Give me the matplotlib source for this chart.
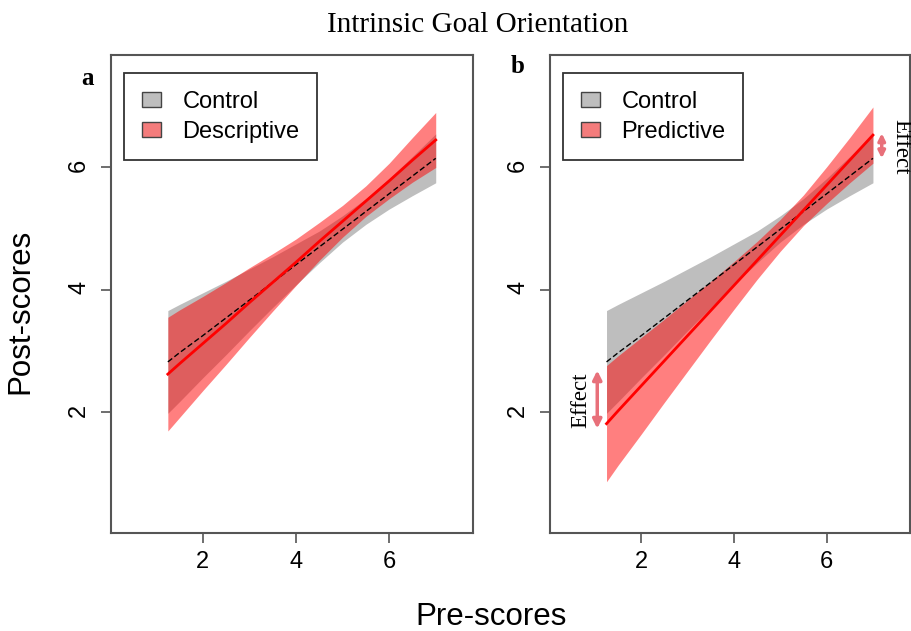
import matplotlib
matplotlib.use("Agg")
import matplotlib.pyplot as plt
from matplotlib.patches import Patch

pre = [1.25, 1.5, 2, 2.5, 3, 3.5, 4, 4.5, 5, 5.5, 6, 6.5, 7]

control_fit = [2.82, 2.97, 3.25, 3.54, 3.83, 4.12, 4.41, 4.70, 4.99, 5.28, 5.57, 5.86, 6.15]
control_lo = [1.98, 2.17, 2.56, 2.94, 3.33, 3.71, 4.08, 4.44, 4.78, 5.07, 5.32, 5.54, 5.75]
control_hi = [3.66, 3.76, 3.95, 4.14, 4.34, 4.54, 4.75, 4.96, 5.21, 5.49, 5.82, 6.18, 6.55]

descriptive_fit = [2.62, 2.79, 3.12, 3.45, 3.79, 4.12, 4.45, 4.79, 5.12, 5.45, 5.78, 6.12, 6.45]
descriptive_lo = [1.69, 1.91, 2.35, 2.78, 3.22, 3.65, 4.07, 4.48, 4.86, 5.20, 5.49, 5.76, 6.00]
descriptive_hi = [3.55, 3.67, 3.89, 4.12, 4.36, 4.59, 4.83, 5.10, 5.38, 5.70, 6.07, 6.49, 6.90]

predictive_fit = [1.81, 2.02, 2.43, 2.84, 3.25, 3.66, 4.07, 4.48, 4.89, 5.30, 5.71, 6.12, 6.53]
predictive_lo = [0.86, 1.13, 1.64, 2.16, 2.67, 3.18, 3.68, 4.17, 4.63, 5.05, 5.41, 5.75, 6.07]
predictive_hi = [2.76, 2.92, 3.22, 3.52, 3.83, 4.14, 4.46, 4.79, 5.15, 5.55, 6.01, 6.49, 6.99]

# "Effect" arrows in panel b
effect_x = [1.05, 7.19]
effect_lo = [1.73, 6.15]
effect_hi = [2.68, 6.56]

ticks = [2, 4, 6]

SANS = "Liberation Sans"
SERIF = "Liberation Serif"
plt.rcParams["font.family"] = SANS

GRAY = "#BEBEBE"
RED_FILL = (1.0, 0.0, 0.0, 0.5)
ARROW = "#E8707A"
FRAME = "#555555"

fig = plt.figure(figsize=(9.12, 6.31), dpi=100)
ax_a = fig.add_axes([111 / 912, 1 - 532.5 / 631, 362 / 912, 477.5 / 631])
ax_b = fig.add_axes([550 / 912, 1 - 532.5 / 631, 360 / 912, 477.5 / 631])


def draw_panel(ax, treat_fit, treat_lo, treat_hi, treat_name):
    ax.fill_between(pre, control_lo, control_hi, color=GRAY, lw=0)
    ax.fill_between(pre, treat_lo, treat_hi, color=RED_FILL, lw=0)
    ax.plot(pre, control_fit, color="black", lw=1, ls=(0, (4, 2)))
    ax.plot(pre, treat_fit, color="red", lw=2)

    ax.set_xlim(0.03, 7.8)
    ax.set_ylim(0.03, 7.84)
    ax.set_xticks(ticks)
    ax.set_yticks(ticks)
    ax.tick_params(length=7, width=1.2, color=FRAME, labelsize=17, pad=6)
    ax.tick_params(axis="y", labelrotation=90, pad=8)
    for sp in ax.spines.values():
        sp.set_color(FRAME)
        sp.set_linewidth(1.5)

    handles = [Patch(facecolor=GRAY, edgecolor="#444444", label="Control"),
               Patch(facecolor="#F47C7C", edgecolor="#444444", label=treat_name)]
    leg = ax.legend(handles=handles, loc="upper left", bbox_to_anchor=(0.036, 0.962),
                    borderaxespad=0, fontsize=17, frameon=True, fancybox=False,
                    edgecolor="black", handlelength=0.8, handleheight=0.6,
                    handletextpad=0.92, labelspacing=0.33, borderpad=0.75)
    leg.get_frame().set_linewidth(1.3)


draw_panel(ax_a, descriptive_fit, descriptive_lo, descriptive_hi, "Descriptive")
draw_panel(ax_b, predictive_fit, predictive_lo, predictive_hi, "Predictive")

for x, lo, hi, head in zip(effect_x, effect_lo, effect_hi, [13, 10]):
    ax_b.annotate("", xy=(x, lo), xytext=(x, hi),
                  arrowprops=dict(arrowstyle="<|-|>", color=ARROW, lw=2.5,
                                  mutation_scale=head, shrinkA=0, shrinkB=0),
                  annotation_clip=False)
ax_b.text(0.70, 2.19, "Effect", rotation=90, ha="center", va="center",
          fontsize=16.5, family=SERIF)
ax_b.text(7.61, 6.34, "Effect", rotation=-90, ha="center", va="center",
          fontsize=16.5, family=SERIF, clip_on=False)

fig.text(87 / 912, 1 - 85 / 631, "a", ha="center", va="baseline",
         fontsize=18, fontweight="bold", family=SERIF)
fig.text(518 / 912, 1 - 73 / 631, "b", ha="center", va="baseline",
         fontsize=18, fontweight="bold", family=SERIF)

fig.text(478 / 912, 1 - 31.5 / 631, "Intrinsic Goal Orientation", ha="center",
         va="baseline", fontsize=21, family=SERIF)
fig.text(491 / 912, 1 - 625 / 631, "Pre-scores", ha="center", va="baseline",
         fontsize=22.5)
fig.text(20 / 912, 1 - 311.5 / 631, "Post-scores", rotation=90, ha="center",
         va="center", fontsize=22.5)

fig.savefig("out.png", dpi=100)
